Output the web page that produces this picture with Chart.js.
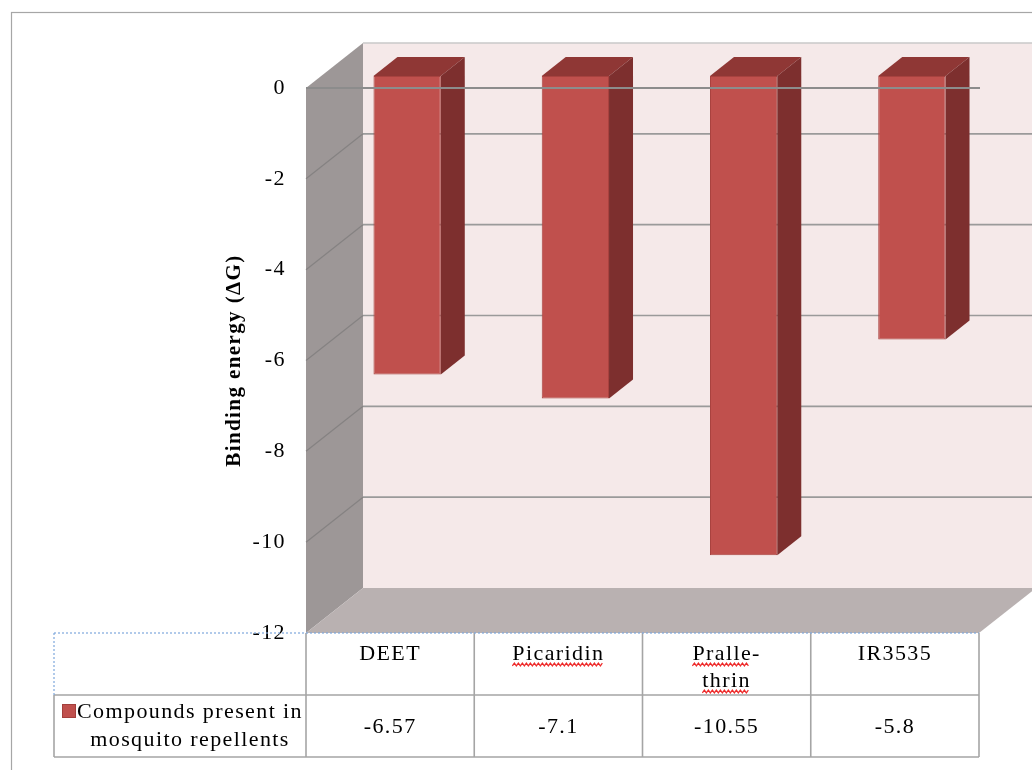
<!DOCTYPE html>
<html>
<head>
<meta charset="utf-8">
<script src="https://cdn.jsdelivr.net/npm/chart.js@4.4.1/dist/chart.umd.min.js"></script>
<style>
  html, body { margin: 0; padding: 0; background: #ffffff; }
  canvas { display: block; }
</style>
</head>
<body>
<canvas id="c" width="1032" height="770"></canvas>
<script>
// ---- data ----
const categories = ['DEET', 'Picaridin', ['Pralle-', 'thrin'], 'IR3535'];
const seriesName = 'Compounds present in mosquito repellents';
const bindingEnergy = [-6.57, -7.1, -10.55, -5.8];
const yTicks = [0, -2, -4, -6, -8, -10, -12];
const flaggedWords = ['Picaridin', 'Pralle', 'thrin'];

// ---- style / geometry ----
const FONT = '"Liberation Serif", "Times New Roman", serif';
const SPACING = '1.4px';
const DEPTH = { x: 57, y: -45 };      // wall depth projection
const BAR_FRONT = { x: 17, y: -12 };  // bar front face offset from front plane
const BAR_DEPTH = { x: 24, y: -19 };  // bar depth

function poly(ctx, pts, fill) {
  ctx.beginPath();
  ctx.moveTo(pts[0][0], pts[0][1]);
  for (let i = 1; i < pts.length; i++) ctx.lineTo(pts[i][0], pts[i][1]);
  ctx.closePath();
  ctx.fillStyle = fill;
  ctx.fill();
}
function line(ctx, x0, y0, x1, y1, color, w, dash) {
  ctx.save();
  ctx.beginPath();
  ctx.strokeStyle = color;
  ctx.lineWidth = w;
  if (dash) ctx.setLineDash(dash);
  ctx.moveTo(x0, y0);
  ctx.lineTo(x1, y1);
  ctx.stroke();
  ctx.restore();
}

const scene = {
  id: 'scene',
  afterInit(chart) { chart.ctx.letterSpacing = SPACING; },
  beforeUpdate(chart) { chart.ctx.letterSpacing = SPACING; },
  beforeDraw(chart) {
    const ctx = chart.ctx;
    ctx.letterSpacing = SPACING;
    const ys = chart.scales.y;
    const L = chart.chartArea.left, R = chart.chartArea.right;
    const T = ys.getPixelForValue(0), B = ys.getPixelForValue(-12);
    ctx.save();
    // back wall
    poly(ctx, [[L + DEPTH.x, T + DEPTH.y], [R + DEPTH.x, T + DEPTH.y], [R + DEPTH.x, B + DEPTH.y], [L + DEPTH.x, B + DEPTH.y]], '#f5e9e9');
    // left side wall
    poly(ctx, [[L, T], [L + DEPTH.x, T + DEPTH.y], [L + DEPTH.x, B + DEPTH.y], [L, B]], '#9d9797');
    // floor
    poly(ctx, [[L, B], [L + DEPTH.x, B + DEPTH.y], [R + DEPTH.x, B + DEPTH.y], [R, B]], '#b9b1b1');
    // gridlines
    yTicks.forEach(v => {
      if (v === -12) return;
      const py = ys.getPixelForValue(v);
      line(ctx, L + DEPTH.x, py + DEPTH.y, R + DEPTH.x, py + DEPTH.y, v === 0 ? '#c8c8c8' : '#9a9a9a', 1.6);
      if (v !== 0) line(ctx, L, py, L + DEPTH.x, py + DEPTH.y, '#858282', 1.2);
    });
    ctx.restore();
  },
  beforeDatasetsDraw(chart) {
    const ctx = chart.ctx;
    ctx.save();
    ctx.translate(BAR_FRONT.x, BAR_FRONT.y);
    const meta = chart.getDatasetMeta(0);
    meta.data.forEach(el => {
      const p = el.getProps(['x', 'y', 'base', 'width'], true);
      const xl = p.x - p.width / 2, xr = p.x + p.width / 2;
      const top = Math.min(p.y, p.base), bot = Math.max(p.y, p.base);
      // top face
      poly(ctx, [[xl, top], [xl + BAR_DEPTH.x, top + BAR_DEPTH.y], [xr + BAR_DEPTH.x, top + BAR_DEPTH.y], [xr, top]], '#8f3735');
      // side face
      poly(ctx, [[xr, top], [xr + BAR_DEPTH.x, top + BAR_DEPTH.y], [xr + BAR_DEPTH.x, bot + BAR_DEPTH.y], [xr, bot]], '#7d2f2e');
    });
  },
  afterDatasetsDraw(chart) {
    chart.ctx.restore();
  },
  afterDraw(chart) {
    const ctx = chart.ctx;
    const xs = chart.scales.x, ys = chart.scales.y;
    const L = chart.chartArea.left, R = chart.chartArea.right;
    const T = ys.getPixelForValue(0), B = ys.getPixelForValue(-12);
    ctx.save();
    // front zero axis line
    line(ctx, L, T, R + 1, T, '#8c8c8c', 2);

    // ---- data table ----
    const tableLeft = 54, rowMid = B + 62, rowBot = B + 124;
    const colW = (R - L) / categories.length;
    const grey = '#a5a5a5';
    line(ctx, tableLeft, rowMid, R, rowMid, grey, 1.6);
    line(ctx, tableLeft, rowBot, R, rowBot, grey, 1.6);
    line(ctx, tableLeft, rowMid, tableLeft, rowBot, grey, 1.6);
    for (let i = 0; i <= categories.length; i++) {
      const x = L + i * colW;
      line(ctx, x, B, x, rowBot, grey, 1.6);
    }
    line(ctx, tableLeft, B, R, B, '#7ea8dc', 1.2, [2, 2]);
    line(ctx, tableLeft, B, tableLeft, rowMid, '#7ea8dc', 1.2, [2, 2]);

    ctx.letterSpacing = SPACING;
    ctx.font = '22px ' + FONT;
    ctx.fillStyle = '#000';
    ctx.textAlign = 'left';
    ctx.textBaseline = 'alphabetic';

    categories.forEach((cat, i) => {
      const cx = xs.getPixelForValue(i);
      const lines = Array.isArray(cat) ? cat : [cat];
      lines.forEach((txt, j) => {
        const by = B + 27 + j * 27;
        const w = ctx.measureText(txt).width;
        const sx = cx - w / 2;
        ctx.fillText(txt, sx, by);
        flaggedWords.forEach(word => {
          const k = txt.indexOf(word);
          if (k < 0) return;
          const x0 = sx + ctx.measureText(txt.slice(0, k)).width;
          const x1 = x0 + ctx.measureText(word).width - 2;
          ctx.save();
          ctx.beginPath();
          ctx.strokeStyle = '#ee2a2a';
          ctx.lineWidth = 1.2;
          let n = 0;
          for (let x = x0; x <= x1; x += 2, n++) {
            const yy = by + 4.5 + (n % 2 ? -1.4 : 1.4);
            if (n === 0) ctx.moveTo(x, yy); else ctx.lineTo(x, yy);
          }
          ctx.stroke();
          ctx.restore();
        });
      });
      // value row
      const vtxt = String(bindingEnergy[i]);
      const vw = ctx.measureText(vtxt).width;
      ctx.fillText(vtxt, cx - vw / 2, B + 100);
    });

    // legend key + series name
    ctx.fillStyle = '#c0504d';
    ctx.fillRect(62, B + 71, 14, 14);
    ctx.strokeStyle = '#a33f3c';
    ctx.lineWidth = 1;
    ctx.strokeRect(62.5, B + 71.5, 13, 13);
    ctx.fillStyle = '#000';
    const words = seriesName.split(' ');
    const wrapped = [];
    let cur = '';
    words.forEach(wd => {
      const test = cur ? cur + ' ' + wd : wd;
      if (ctx.measureText(test).width > 234 && cur) { wrapped.push(cur); cur = wd; }
      else cur = test;
    });
    if (cur) wrapped.push(cur);
    wrapped.forEach((txt, j) => {
      const w = ctx.measureText(txt).width;
      ctx.fillText(txt, 190 - w / 2, B + 85 + j * 28);
    });

    // outer chart border
    ctx.strokeStyle = '#a6a6a6';
    ctx.lineWidth = 1.2;
    ctx.strokeRect(11.5, 12.5, 1200, 900);
    ctx.restore();
  }
};

new Chart(document.getElementById('c'), {
  type: 'bar',
  data: {
    labels: categories,
    datasets: [{
      label: seriesName,
      data: bindingEnergy,
      backgroundColor: '#c0504d',
      borderColor: '#a8423f',
      borderWidth: 1,
      borderSkipped: false,
      barPercentage: 0.4,
      categoryPercentage: 1.0,
      clip: false
    }]
  },
  options: {
    responsive: false,
    devicePixelRatio: 1,
    animation: false,
    events: [],
    layout: { padding: { left: 222, right: 53, top: 88, bottom: 137 } },
    plugins: { legend: { display: false }, tooltip: { enabled: false }, title: { display: false } },
    scales: {
      x: { display: false },
      y: {
        min: -12,
        max: 0,
        afterBuildTicks: s => { s.ticks = yTicks.map(v => ({ value: v })); },
        afterFit: s => { s.width = 84; },
        grid: { display: false, drawTicks: false },
        border: { display: false },
        ticks: { font: { family: FONT, size: 22 }, color: '#000', padding: 20 },
        title: {
          display: true,
          text: 'Binding energy (ΔG)',
          font: { family: FONT, size: 21, weight: 'bold' },
          color: '#000',
          padding: 0
        }
      }
    }
  },
  plugins: [scene]
});
</script>
</body>
</html>
